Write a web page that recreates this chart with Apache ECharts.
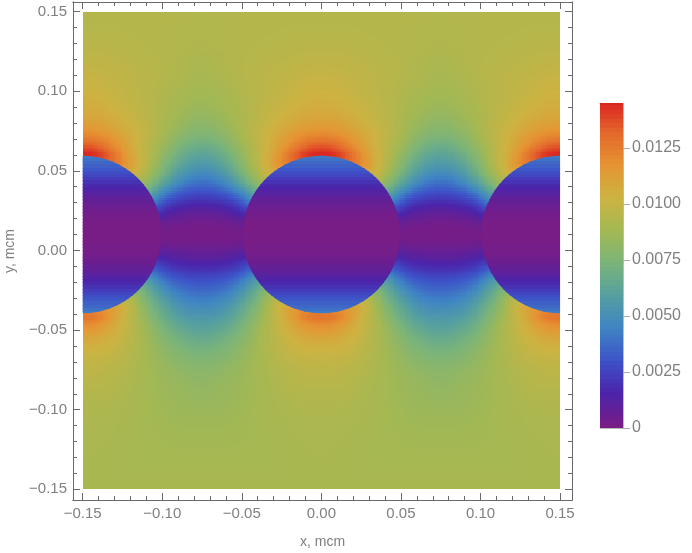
<!DOCTYPE html>
<html><head><meta charset="utf-8">
<style>html,body{margin:0;padding:0;background:#fff}#c{width:692px;height:553px}</style>
<script src="https://cdn.jsdelivr.net/npm/echarts@6/dist/echarts.min.js"></script>
</head><body><div id="c"></div>
<script>
const xCells=[-0.147,-0.141,-0.135,-0.129,-0.123,-0.117,-0.111,-0.105,-0.099,-0.093,-0.087,-0.081,-0.075,-0.069,-0.063,-0.057,-0.051,-0.045,-0.039,-0.033,-0.027,-0.021,-0.015,-0.009,-0.003,0.003,0.009,0.015,0.021,0.027,0.033,0.039,0.045,0.051,0.057,0.063,0.069,0.075,0.081,0.087,0.093,0.099,0.105,0.111,0.117,0.123,0.129,0.135,0.141,0.147];
const yCells=[0.147,0.141,0.135,0.129,0.123,0.117,0.111,0.105,0.099,0.093,0.087,0.081,0.075,0.069,0.063,0.057,0.051,0.045,0.039,0.033,0.027,0.021,0.015,0.009,0.003,-0.003,-0.009,-0.015,-0.021,-0.027,-0.033,-0.039,-0.045,-0.051,-0.057,-0.063,-0.069,-0.075,-0.081,-0.087,-0.093,-0.099,-0.105,-0.111,-0.117,-0.123,-0.129,-0.135,-0.141,-0.147];
// field around the discs, in units of 0.0001, one row per yCells entry, one column per xCells entry
const heatRows=[
[93,93,93,93,93,93,93,93,93,93,92,92,92,92,92,93,93,93,93,93,93,93,93,93,93,93,93,93,93,93,93,93,93,93,93,92,92,92,92,92,93,93,93,93,93,93,93,93,93,93],
[93,93,93,93,93,93,93,93,93,92,92,92,92,92,92,92,93,93,93,93,93,93,93,93,93,93,93,93,93,93,93,93,93,93,92,92,92,92,92,92,92,93,93,93,93,93,93,93,93,93],
[94,94,94,94,93,93,93,93,93,92,92,92,92,92,92,92,93,93,93,93,93,94,94,94,94,94,94,94,94,93,93,93,93,93,92,92,92,92,92,92,92,93,93,93,93,93,94,94,94,94],
[95,95,95,94,94,94,93,93,93,92,92,92,91,92,92,92,93,93,93,94,94,94,95,95,95,95,95,95,94,94,94,93,93,93,92,92,92,91,92,92,92,93,93,93,94,94,94,95,95,95],
[96,96,96,95,95,94,94,93,93,92,92,91,91,91,92,92,93,93,94,94,95,95,96,96,96,96,96,96,95,95,94,94,93,93,92,92,91,91,91,92,92,93,93,94,94,95,95,96,96,96],
[97,97,97,96,96,95,94,94,93,92,91,90,90,90,91,92,93,94,94,95,96,96,97,97,97,97,97,97,96,96,95,94,94,93,92,91,90,90,90,91,92,93,94,94,95,96,96,97,97,97],
[99,99,98,97,97,96,95,94,93,92,91,90,89,90,91,92,93,94,95,96,97,97,98,99,99,99,99,98,97,97,96,95,94,93,92,91,90,89,90,91,92,93,94,95,96,97,97,98,99,99],
[100,100,99,98,97,96,95,94,92,91,90,89,88,89,90,91,92,94,95,96,97,98,99,100,100,100,100,99,98,97,96,95,94,92,91,90,89,88,89,90,91,92,94,95,96,97,98,99,100,100],
[102,102,100,99,98,96,95,93,91,90,88,87,86,87,88,90,91,93,95,96,98,99,100,102,102,102,102,100,99,98,96,95,93,91,90,88,87,86,87,88,90,91,93,95,96,98,99,100,102,102],
[104,103,102,100,98,97,95,93,91,89,87,86,85,86,87,89,91,93,95,97,98,100,102,103,104,104,103,102,100,98,97,95,93,91,89,87,86,85,86,87,89,91,93,95,97,98,100,102,103,104],
[106,106,104,102,100,98,96,93,90,88,86,84,83,84,86,88,90,93,96,98,100,102,104,106,106,106,106,104,102,100,98,96,93,90,88,86,84,83,84,86,88,90,93,96,98,100,102,104,106,106],
[110,109,107,105,102,99,96,93,89,86,83,81,79,81,83,86,89,93,96,99,102,105,107,109,110,110,109,107,105,102,99,96,93,89,86,83,81,79,81,83,86,89,93,96,99,102,105,107,109,110],
[116,115,113,109,105,102,98,94,89,84,80,77,76,77,80,84,89,94,98,102,105,109,113,115,116,116,115,113,109,105,102,98,94,89,84,80,77,76,77,80,84,89,94,98,102,105,109,113,115,116],
[126,124,120,115,109,103,97,92,86,80,75,72,71,72,75,80,86,92,97,103,109,115,120,124,126,126,124,120,115,109,103,97,92,86,80,75,72,71,72,75,80,86,92,97,103,109,115,120,124,126],
[141,137,128,120,112,103,96,89,82,75,69,65,63,65,69,75,82,89,96,103,112,120,128,137,141,141,137,128,120,112,103,96,89,82,75,69,65,63,65,69,75,82,89,96,103,112,120,128,137,141],
[150,148,142,130,118,107,98,88,78,69,63,59,57,59,63,69,78,88,98,107,118,130,142,148,150,150,148,142,130,118,107,98,88,78,69,63,59,57,59,63,69,78,88,98,107,118,130,142,148,150],
[122,122,122,120,115,106,96,84,73,64,56,52,49,52,56,64,73,84,96,106,115,120,122,122,122,122,122,122,120,115,106,96,84,73,64,56,52,49,52,56,64,73,84,96,106,115,120,122,122,122],
[100,100,100,100,100,98,88,76,66,55,47,42,40,42,47,55,66,76,88,98,100,100,100,100,100,100,100,100,100,100,98,88,76,66,55,47,42,40,42,47,55,66,76,88,98,100,100,100,100,100],
[82,82,82,82,82,82,78,64,53,43,36,33,32,33,36,43,53,64,78,82,82,82,82,82,82,82,82,82,82,82,82,78,64,53,43,36,33,32,33,36,43,53,64,78,82,82,82,82,82,82],
[60,60,60,60,60,60,60,48,34,27,24,22,21,22,24,27,34,48,60,60,60,60,60,60,60,60,60,60,60,60,60,60,48,34,27,24,22,21,22,24,27,34,48,60,60,60,60,60,60,60],
[36,36,36,36,36,36,36,34,21,16,13,12,11,12,13,16,21,34,36,36,36,36,36,36,36,36,36,36,36,36,36,36,34,21,16,13,12,11,12,13,16,21,34,36,36,36,36,36,36,36],
[14,14,14,14,14,14,14,14,9,7,5,4,4,4,5,7,9,14,14,14,14,14,14,14,14,14,14,14,14,14,14,14,14,9,7,5,4,4,4,5,7,9,14,14,14,14,14,14,14,14],
[3,3,3,3,3,3,3,3,2,2,1,1,1,1,1,2,2,3,3,3,3,3,3,3,3,3,3,3,3,3,3,3,3,2,2,1,1,1,1,1,2,2,3,3,3,3,3,3,3,3],
[0,0,0,0,0,0,0,0,0,0,0,0,0,0,0,0,0,0,0,0,0,0,0,0,0,0,0,0,0,0,0,0,0,0,0,0,0,0,0,0,0,0,0,0,0,0,0,0,0,0],
[5,5,5,5,5,5,5,5,4,3,3,3,3,3,3,3,4,5,5,5,5,5,5,5,5,5,5,5,5,5,5,5,5,4,3,3,3,3,3,3,3,4,5,5,5,5,5,5,5,5],
[14,14,14,14,14,14,14,14,11,9,8,7,7,7,8,9,11,14,14,14,14,14,14,14,14,14,14,14,14,14,14,14,14,11,9,8,7,7,7,8,9,11,14,14,14,14,14,14,14,14],
[28,28,28,28,28,28,28,28,20,17,15,14,14,14,15,17,20,28,28,28,28,28,28,28,28,28,28,28,28,28,28,28,28,20,17,15,14,14,14,15,17,20,28,28,28,28,28,28,28,28],
[48,48,48,48,48,48,48,40,31,27,25,23,23,23,25,27,31,40,48,48,48,48,48,48,48,48,48,48,48,48,48,48,40,31,27,25,23,23,23,25,27,31,40,48,48,48,48,48,48,48],
[68,68,68,68,68,68,66,54,43,36,33,31,31,31,33,36,43,54,66,68,68,68,68,68,68,68,68,68,68,68,68,66,54,43,36,33,31,31,31,33,36,43,54,66,68,68,68,68,68,68],
[86,86,86,86,86,85,70,60,52,44,40,38,37,38,40,44,52,60,70,85,86,86,86,86,86,86,86,86,86,86,85,70,60,52,44,40,38,37,38,40,44,52,60,70,85,86,86,86,86,86],
[110,110,110,110,105,90,78,68,60,52,47,45,44,45,47,52,60,68,78,90,105,110,110,110,110,110,110,110,110,105,90,78,68,60,52,47,45,44,45,47,52,60,68,78,90,105,110,110,110,110],
[132,130,122,110,100,90,80,71,64,58,53,51,50,51,53,58,64,71,80,90,100,110,122,130,132,132,130,122,110,100,90,80,71,64,58,53,51,50,51,53,58,64,71,80,90,100,110,122,130,132],
[122,120,113,106,99,92,85,77,69,63,59,57,56,57,59,63,69,77,85,92,99,106,113,120,122,122,120,113,106,99,92,85,77,69,63,59,57,56,57,59,63,69,77,85,92,99,106,113,120,122],
[112,111,107,103,98,93,87,80,74,69,65,62,61,62,65,69,74,80,87,93,98,103,107,111,112,112,111,107,103,98,93,87,80,74,69,65,62,61,62,65,69,74,80,87,93,98,103,107,111,112],
[106,105,103,100,96,92,87,82,77,73,70,68,66,68,70,73,77,82,87,92,96,100,103,105,106,106,105,103,100,96,92,87,82,77,73,70,68,66,68,70,73,77,82,87,92,96,100,103,105,106],
[101,101,100,98,95,92,88,84,80,77,74,72,71,72,74,77,80,84,88,92,95,98,100,101,101,101,101,100,98,95,92,88,84,80,77,74,72,71,72,74,77,80,84,88,92,95,98,100,101,101],
[98,98,97,96,94,91,88,85,82,79,77,76,75,76,77,79,82,85,88,91,94,96,97,98,98,98,98,97,96,94,91,88,85,82,79,77,76,75,76,77,79,82,85,88,91,94,96,97,98,98],
[97,96,95,94,92,90,88,86,84,82,80,79,78,79,80,82,84,86,88,90,92,94,95,96,97,97,96,95,94,92,90,88,86,84,82,80,79,78,79,80,82,84,86,88,90,92,94,95,96,97],
[95,95,94,93,91,90,88,86,84,83,82,81,80,81,82,83,84,86,88,90,91,93,94,95,95,95,95,94,93,91,90,88,86,84,83,82,81,80,81,82,83,84,86,88,90,91,93,94,95,95],
[93,93,93,92,91,89,88,86,85,84,83,82,81,82,83,84,85,86,88,89,91,92,93,93,93,93,93,93,92,91,89,88,86,85,84,83,82,81,82,83,84,85,86,88,89,91,92,93,93,93],
[92,92,92,91,90,89,88,86,85,84,84,83,83,83,84,84,85,86,88,89,90,91,92,92,92,92,92,92,91,90,89,88,86,85,84,84,83,83,83,84,84,85,86,88,89,90,91,92,92,92],
[91,91,91,90,90,89,88,87,86,85,84,84,84,84,84,85,86,87,88,89,90,90,91,91,91,91,91,91,90,90,89,88,87,86,85,84,84,84,84,84,85,86,87,88,89,90,90,91,91,91],
[91,91,90,90,89,89,88,87,86,85,85,85,85,85,85,85,86,87,88,89,89,90,90,91,91,91,91,90,90,89,89,88,87,86,85,85,85,85,85,85,85,86,87,88,89,89,90,90,91,91],
[90,90,90,90,89,89,88,87,87,86,86,86,86,86,86,86,87,87,88,89,89,90,90,90,90,90,90,90,90,89,89,88,87,87,86,86,86,86,86,86,86,87,87,88,89,89,90,90,90,90],
[90,90,90,89,89,88,88,87,87,87,86,86,86,86,86,87,87,87,88,88,89,89,90,90,90,90,90,90,89,89,88,88,87,87,87,86,86,86,86,86,87,87,87,88,88,89,89,90,90,90],
[90,90,89,89,89,88,88,88,87,87,87,87,87,87,87,87,87,88,88,88,89,89,89,90,90,90,90,89,89,89,88,88,88,87,87,87,87,87,87,87,87,87,88,88,88,89,89,89,90,90],
[90,89,89,89,89,88,88,88,88,88,88,88,88,88,88,88,88,88,88,88,89,89,89,89,90,90,89,89,89,89,88,88,88,88,88,88,88,88,88,88,88,88,88,88,88,89,89,89,89,90],
[89,89,89,89,89,88,88,88,88,88,88,88,88,88,88,88,88,88,88,88,89,89,89,89,89,89,89,89,89,89,88,88,88,88,88,88,88,88,88,88,88,88,88,88,88,89,89,89,89,89],
[89,89,89,89,89,89,89,89,89,89,89,89,89,89,89,89,89,89,89,89,89,89,89,89,89,89,89,89,89,89,89,89,89,89,89,89,89,89,89,89,89,89,89,89,89,89,89,89,89,89],
[89,89,89,89,89,89,89,89,89,89,89,89,89,89,89,89,89,89,89,89,89,89,89,89,89,89,89,89,89,89,89,89,89,89,89,89,89,89,89,89,89,89,89,89,89,89,89,89,89,89]
];
// the discs: bands of constant value, same units
const discCenters=[-0.15,0,0.15];
const discCenterY=0.01;
const discRadius=0.0495;
const bandY=[0.061,0.059,0.057,0.055,0.053,0.051,0.049,0.047,0.045,0.043,0.041,0.039,0.037,0.035,0.033,0.031,0.029,0.027,0.025,0.023,0.021,0.019,0.017,0.015,0.013,0.011,0.009,0.007,0.005,0.003,0.001,-0.001,-0.003,-0.005,-0.007,-0.009,-0.011,-0.013,-0.015,-0.017,-0.019,-0.021,-0.023,-0.025,-0.027,-0.029,-0.031,-0.033,-0.035,-0.037,-0.039,-0.041];
const bandV=[43,41,38,35,33,30,28,25,22,19,16,14,12,10,8,7,5,4,3,2,1,1,0,0,0,0,0,0,0,1,1,1,2,3,4,5,7,8,10,12,14,16,19,22,25,28,30,33,35,38,41,43];
const barLevels=[0,2,4,6,8,10,12,14,16,18,20,22,24,26,28,30,32,34,36,38,40,42,44,46,48,50,52,54,56,58,60,62,64,66,68,70,72,74,76,78,80,82,84,86,88,90,92,94,96,98,100,102,104,106,108,110,112,114,116,118,120,122,124,126,128,130,132,134,136,138,140,142,144];
const xMajor=[-0.15,-0.1,-0.05,0,0.05,0.1,0.15];
const yMajor=[-0.15,-0.1,-0.05,0,0.05,0.1,0.15];
const minorTicks=[-0.14,-0.13,-0.12,-0.11,-0.09,-0.08,-0.07,-0.06,-0.04,-0.03,-0.02,-0.01,0.01,0.02,0.03,0.04,0.06,0.07,0.08,0.09,0.11,0.12,0.13,0.14];
const barMajor=[0,0.0025,0.005,0.0075,0.01,0.0125];
const barMinor=[0.0005,0.001,0.0015,0.002,0.003,0.0035,0.004,0.0045,0.0055,0.006,0.0065,0.007,0.008,0.0085,0.009,0.0095,0.0105,0.011,0.0115,0.012,0.013,0.0135,0.014];
const rampColors=['#781c86','#4b24aa','#3d52c8','#3f85c4','#559fa0','#7ab47a','#a3b853','#ccb342','#e59533','#e4682b','#d92120'];

const frame='#6a6a6a', textColor='#808080', FULL=145;
const X=[-0.1561,0.1575], Y=[-0.1567,0.156], BY=[0,0.0145];
const nR=yCells.length,nC=xCells.length;
const cellData=[];
yCells.forEach((y,r)=>xCells.forEach((x,c)=>cellData.push([x,y,heatRows[r][c]/10000])));
const discData=[];
discCenters.forEach(cx=>bandY.forEach((y,i)=>discData.push([cx,y,bandV[i]/10000])));
const barData=barLevels.map(l=>[0.5,(l+1)/10000,l/10000]);
// shading: corner values are the mean of the typed cells that meet there
const corner=[];
for(let r=0;r<=nR;r++){corner.push([]);for(let c=0;c<=nC;c++){
  let s=0,n=0;
  [[r-1,c-1],[r-1,c],[r,c-1],[r,c]].forEach(p=>{if(p[0]>=0&&p[0]<nR&&p[1]>=0&&p[1]<nC){s+=heatRows[p[0]][p[1]];n++;}});
  corner[r].push(s/n);
}}
const SUB=4;
function shadedCell(params,api){
  const i=params.dataIndex,r=Math.floor(i/nC),c=i%nC;
  const x=api.value(0),y=api.value(1),h=0.003;
  const a=api.coord([x-h,y+h]),b=api.coord([x+h,y-h]);
  const kids=[];
  const q=corner[r][c],w=corner[r][c+1],e=corner[r+1][c],d=corner[r+1][c+1];
  for(let m=0;m<SUB;m++)for(let n=0;n<SUB;n++){
    const u=(n+.5)/SUB,v=(m+.5)/SUB;
    const val=(q*(1-u)+w*u)*(1-v)+(e*(1-u)+d*u)*v;
    const l=Math.round(a[0]+(b[0]-a[0])*n/SUB),t=Math.round(a[1]+(b[1]-a[1])*m/SUB);
    const rr=Math.round(a[0]+(b[0]-a[0])*(n+1)/SUB),bb=Math.round(a[1]+(b[1]-a[1])*(m+1)/SUB);
    const fw=n===SUB-1&&c===nC-1?0:1,fh=m===SUB-1&&r===nR-1?0:1;
    kids.push({type:'rect',shape:{x:l,y:t,width:rr-l+fw,height:bb-t+fh},style:{fill:echarts.color.lerp(Math.min(1,val/FULL),rampColors)}});
  }
  return {type:'group',children:kids};
}
function discBand(params,api){
  const cx=api.value(0),y=api.value(1);
  const a=api.coord([Math.max(cx-discRadius,xMajor[0]),y+0.001]);
  const b=api.coord([Math.min(cx+discRadius,xMajor[6]),y-0.001]);
  const m=api.coord([cx,discCenterY]);
  const rad=api.size([discRadius,0])[0];
  const t=Math.round(a[1]),bt=Math.round(b[1]);
  return {type:'rect',shape:{x:a[0],y:t,width:b[0]-a[0],height:bt-t+1},
    style:{fill:api.visual('color')},
    clipPath:{type:'circle',shape:{cx:m[0],cy:m[1],r:rad}}};
}
function barCell(params,api){
  const y=api.value(1);
  const a=api.coord([0,Math.min(y+0.0001,BY[1])]),b=api.coord([1,y-0.0001]);
  const t=Math.round(a[1]),bt=Math.round(b[1]);
  return {type:'rect',shape:{x:a[0],y:t,width:b[0]-a[0],height:bt-t},style:{fill:api.visual('color')}};
}
const fmtTick=v=>(v<0?'\u2212':'')+Math.abs(v).toFixed(2);
function ax(position,range,ticks,len,label,extra){
  return Object.assign({type:'value',position,min:range[0],max:range[1],scale:false,
    splitLine:{show:false},minorTick:{show:false},
    axisLine:{show:true,onZero:false,lineStyle:{color:frame,width:1}},
    axisTick:{show:true,inside:true,length:len,customValues:ticks,lineStyle:{color:frame,width:1}},
    axisLabel:label?{show:true,customValues:ticks,formatter:fmtTick,color:textColor,fontFamily:'Liberation Sans',fontSize:15,margin:6}:{show:false}
  },extra||{});
}
const nameStyle={color:textColor,fontFamily:'Liberation Sans',fontSize:14};
const chart=echarts.init(document.getElementById('c'),null,{renderer:'canvas'});
chart.setOption({
  animation:false,backgroundColor:'#fff',
  grid:[{left:73,top:2,width:499,height:498,containLabel:false,outerBoundsMode:'none'},{left:600,top:103,width:23,height:325,outerBoundsMode:'none'}],
  xAxis:[
    ax('bottom',X,xMajor,7,true,{gridIndex:0,name:'x, mcm',nameLocation:'middle',nameGap:35,nameTextStyle:nameStyle}),
    ax('bottom',X,minorTicks,4,false,{gridIndex:0}),
    ax('top',X,xMajor,7,false,{gridIndex:0}),
    ax('top',X,minorTicks,4,false,{gridIndex:0}),
    {type:'value',gridIndex:1,min:0,max:1,position:'bottom',axisLine:{show:true,onZero:false,lineStyle:{color:'#bbb'}},axisTick:{show:false},axisLabel:{show:false},splitLine:{show:false}},
    {type:'value',gridIndex:1,min:0,max:1,position:'top',axisLine:{show:true,onZero:false,lineStyle:{color:'#bbb'}},axisTick:{show:false},axisLabel:{show:false},splitLine:{show:false}}
  ],
  yAxis:[
    ax('left',Y,yMajor,7,true,{gridIndex:0,name:'y, mcm',nameLocation:'middle',nameGap:56,nameTextStyle:nameStyle}),
    ax('left',Y,minorTicks,4,false,{gridIndex:0}),
    ax('right',Y,yMajor,7,false,{gridIndex:0}),
    ax('right',Y,minorTicks,4,false,{gridIndex:0}),
    {type:'value',gridIndex:1,position:'right',min:BY[0],max:BY[1],splitLine:{show:false},
      axisLine:{show:true,onZero:false,lineStyle:{color:'#bbb'}},
      axisTick:{show:true,inside:false,length:7,customValues:barMajor,lineStyle:{color:'#aaa'}},
      axisLabel:{show:true,customValues:barMajor,margin:9,color:textColor,fontFamily:'Liberation Sans',fontSize:16,formatter:v=>v===0?'0':v.toFixed(4)}},
    {type:'value',gridIndex:1,position:'right',min:BY[0],max:BY[1],splitLine:{show:false},
      axisLine:{show:false},axisLabel:{show:false},
      axisTick:{show:true,inside:false,length:4,customValues:barMinor,lineStyle:{color:'#aaa'}}},
    {type:'value',gridIndex:1,position:'left',min:BY[0],max:BY[1],splitLine:{show:false},
      axisLine:{show:true,onZero:false,lineStyle:{color:'#bbb'}},axisTick:{show:false},axisLabel:{show:false}}
  ],
  visualMap:{show:false,type:'continuous',min:0,max:0.0145,dimension:2,seriesIndex:[1,2],inRange:{color:rampColors}},
  series:[
    {type:'custom',xAxisIndex:0,yAxisIndex:0,data:cellData,encode:{x:0,y:1},renderItem:shadedCell,progressive:0,silent:true},
    {type:'custom',xAxisIndex:0,yAxisIndex:0,data:discData,encode:{x:0,y:1},renderItem:discBand,progressive:0,silent:true},
    {type:'custom',xAxisIndex:4,yAxisIndex:4,data:barData,encode:{x:0,y:1},renderItem:barCell,progressive:0,silent:true}
  ]
});
</script></body></html>
